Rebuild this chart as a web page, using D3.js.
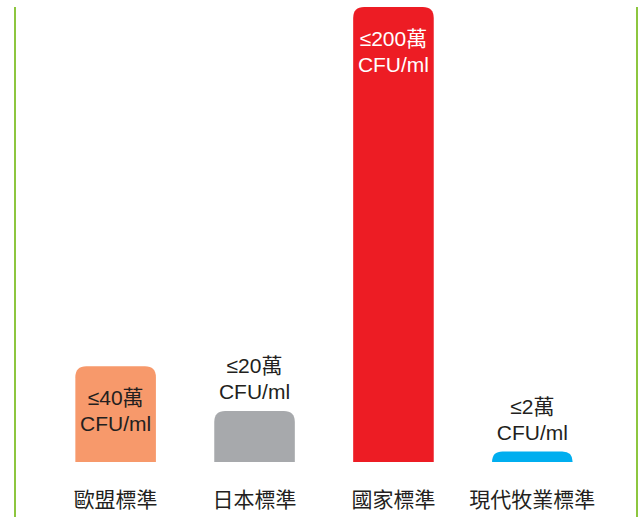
<!DOCTYPE html>
<html>
<head>
<meta charset="utf-8">
<title>菌落總數標準</title>
<style>
  body{ margin:0; background:#fff; }
  svg{ display:block; }
  text{ font-family:"Liberation Sans","Noto Sans CJK TC",sans-serif; }
</style>
</head>
<body>
<div id="container"></div>
<script src="https://cdn.jsdelivr.net/npm/d3@7/dist/d3.min.js"></script>
<script>
// data
var categories = ["歐盟標準", "日本標準", "國家標準", "現代牧業標準"];
var values = [40, 20, 200, 2];
var valueLabels = ["≤40萬", "≤20萬", "≤200萬", "≤2萬"];
var unitLabel = "CFU/ml";
var colors = ["#f7996b", "#a7a9ac", "#ed1c24", "#00aeef"];
var labelInside = [true, false, true, false];
var labelColors = ["#231f20", "#231f20", "#ffffff", "#231f20"];

var width = 643, height = 517;
var base = 462;

var svg = d3.select("#container").append("svg")
    .attr("width", width)
    .attr("height", height);

var xScale = d3.scaleBand().domain(categories).range([17, 631]).padding(0.42);
var yScale = d3.scaleLinear().domain([0, 200]).range([456, 7]);

// side rules
svg.selectAll(".rule")
  .data([15, 637])
  .enter().append("line")
  .attr("class", "rule")
  .attr("x1", d => d).attr("x2", d => d)
  .attr("y1", 7).attr("y2", height)
  .attr("stroke", "#8dc63f")
  .attr("stroke-width", 2);

function topRounded(x, y, w, h, r){
  r = Math.min(r, h, w / 2);
  return "M" + x + "," + (y + h) +
    "V" + (y + r) +
    "Q" + x + "," + y + " " + (x + r) + "," + y +
    "H" + (x + w - r) +
    "Q" + (x + w) + "," + y + " " + (x + w) + "," + (y + r) +
    "V" + (y + h) + "Z";
}

var rows = categories.map(function(c, i){
  return {cat: c, v: values[i], label: valueLabels[i], color: colors[i],
          inside: labelInside[i], tcolor: labelColors[i]};
});

svg.selectAll(".bar")
  .data(rows)
  .enter().append("path")
  .attr("class", "bar")
  .attr("fill", d => d.color)
  .attr("d", d => topRounded(xScale(d.cat), yScale(d.v), xScale.bandwidth(), base - yScale(d.v), 11));

var lab = svg.selectAll(".vlabel")
  .data(rows)
  .enter().append("text")
  .attr("class", "vlabel")
  .attr("text-anchor", "middle")
  .attr("font-size", 21)
  .attr("fill", d => d.tcolor)
  .attr("x", d => xScale(d.cat) + xScale.bandwidth() / 2)
  .attr("y", d => d.inside ? yScale(d.v) + 39 : yScale(d.v) - 38);

lab.append("tspan")
  .attr("x", d => xScale(d.cat) + xScale.bandwidth() / 2)
  .text(d => d.label);
lab.append("tspan")
  .attr("x", d => xScale(d.cat) + xScale.bandwidth() / 2)
  .attr("dy", 26)
  .text(unitLabel);

svg.selectAll(".cat")
  .data(categories)
  .enter().append("text")
  .attr("class", "cat")
  .attr("text-anchor", "middle")
  .attr("font-size", 21)
  .attr("fill", "#231f20")
  .style("font-family", "'Noto Sans CJK TC',sans-serif")
  .attr("x", d => xScale(d) + xScale.bandwidth() / 2)
  .attr("y", 507)
  .text(d => d);
</script>
</body>
</html>
